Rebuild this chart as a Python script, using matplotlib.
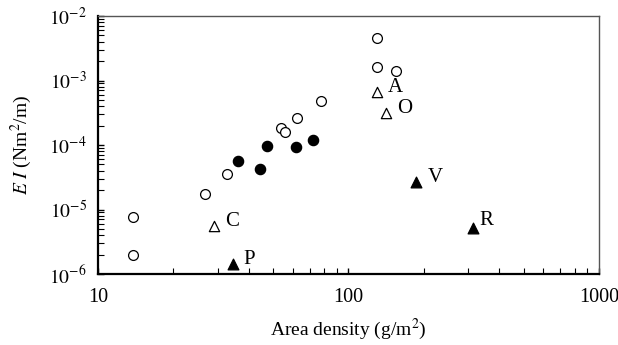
import matplotlib
matplotlib.use('Agg')
import matplotlib.pyplot as plt
from matplotlib.ticker import LogLocator, NullFormatter

plt.rcParams['font.family'] = ['Liberation Serif', 'DejaVu Serif']
plt.rcParams['mathtext.fontset'] = 'stix'

# ---- data ----
open_circ_x = [13.8, 13.8, 26.7, 32.7, 53.6, 55.7, 62.1, 77.9, 130, 130, 155]
open_circ_y = [7.6e-6, 1.97e-6, 1.72e-5, 3.5e-5, 1.86e-4, 1.57e-4, 2.62e-4, 4.75e-4,
               4.5e-3, 1.64e-3, 1.40e-3]

fill_circ_x = [36.2, 44.5, 47.4, 61.7, 72.4]
fill_circ_y = [5.6e-5, 4.2e-5, 9.8e-5, 9.3e-5, 1.2e-4]

open_tri_names = ['A', 'O', 'C']
open_tri_x = [130, 141, 29.1]
open_tri_y = [6.7e-4, 3.17e-4, 5.55e-6]

fill_tri_names = ['V', 'R', 'P']
fill_tri_x = [186, 313, 34.7]
fill_tri_y = [2.64e-5, 5.22e-6, 1.41e-6]

# ---- figure ----
fig = plt.figure(figsize=(6.18, 3.45), dpi=100)
ax = fig.add_axes([0.1586, 0.2058, 0.8105, 0.7478])

ax.scatter(open_circ_x, open_circ_y, s=50, facecolors='white', edgecolors='black',
           linewidths=0.9, zorder=3)
ax.scatter(fill_circ_x, fill_circ_y, s=55, facecolors='black', edgecolors='black',
           linewidths=0.9, zorder=3)
ax.scatter(open_tri_x, open_tri_y, s=55, marker='^', facecolors='white',
           edgecolors='black', linewidths=0.9, zorder=3)
ax.scatter(fill_tri_x, fill_tri_y, s=60, marker='^', facecolors='black',
           edgecolors='black', linewidths=0.9, zorder=3)

# point labels (offsets in points, baseline at the marker centre)
label_offsets = {'A': (8, 0), 'O': (8, 0), 'C': (8, 0), 'V': (8.5, 0), 'R': (5, 2), 'P': (7, 0)}
for n, x, y in zip(open_tri_names + fill_tri_names, open_tri_x + fill_tri_x,
                   open_tri_y + fill_tri_y):
    ax.annotate(n, (x, y), xytext=label_offsets[n], textcoords='offset points',
                fontsize=15, ha='left', va='baseline')

ax.set_xscale('log')
ax.set_yscale('log')
ax.set_xlim(10, 1000)
ax.set_ylim(1e-6, 1e-2)

ax.xaxis.set_minor_locator(LogLocator(base=10, subs=range(2, 10)))
ax.yaxis.set_minor_locator(LogLocator(base=10, subs=range(2, 10)))
ax.xaxis.set_minor_formatter(NullFormatter())
ax.yaxis.set_minor_formatter(NullFormatter())
ax.set_xticks([10, 100, 1000])
ax.set_xticklabels(['10', '100', '1000'], fontsize=14.5)
ax.set_yticks([1e-6, 1e-5, 1e-4, 1e-3, 1e-2])
ax.set_yticklabels([r'$10^{-6}$', r'$10^{-5}$', r'$10^{-4}$', r'$10^{-3}$', r'$10^{-2}$'],
                   fontsize=14)

ax.tick_params(which='both', direction='in', top=False, right=False)
ax.tick_params(which='major', length=4, width=1)
ax.tick_params(which='minor', length=4, width=0.8)
ax.tick_params(axis='x', pad=10)
ax.tick_params(axis='y', pad=8)

for side in ['left', 'bottom']:
    ax.spines[side].set_linewidth(1.6)
    ax.spines[side].set_color('black')
for side in ['top', 'right']:
    ax.spines[side].set_linewidth(1.0)
    ax.spines[side].set_color('#555555')

ax.set_xlabel(r'Area density (g/m$^2$)', fontsize=14, labelpad=7)
ax.set_ylabel(r'$E\ I$ (Nm$^2$/m)', fontsize=14, labelpad=11)

plt.savefig('out.png', dpi=100)
